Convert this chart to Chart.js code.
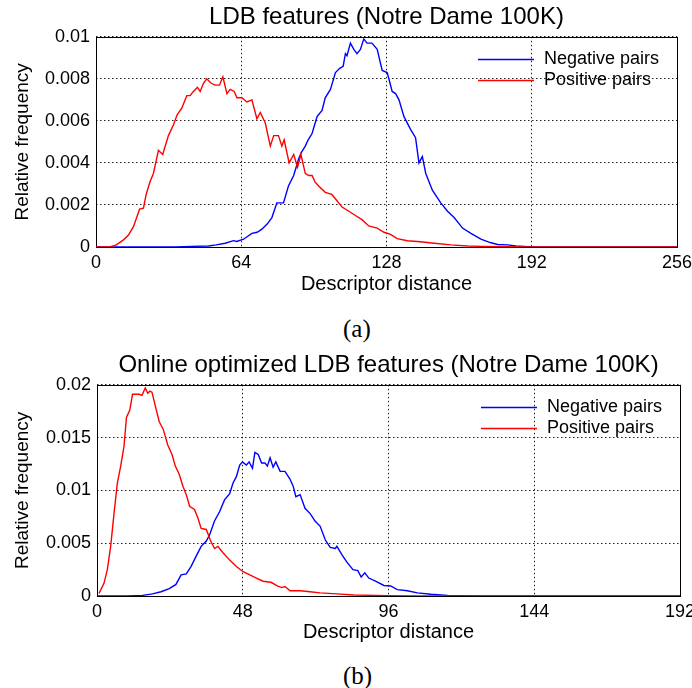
<!DOCTYPE html>
<html>
<head>
<meta charset="utf-8">
<script src="https://cdn.jsdelivr.net/npm/chart.js@4"></script>
<style>
  body { margin: 0; background: #fff; width: 692px; height: 688px; position: relative; overflow: hidden; }
  .panel { position: absolute; left: 0; }
  .caption { position: absolute; left: 343px; font: 25px/30px "Liberation Serif", "Times New Roman", serif; color: #000; }
</style>
</head>
<body>
<canvas id="chartA" class="panel" width="692" height="300" style="top:0px"></canvas>
<div class="caption" style="top:314px">(a)</div>
<canvas id="chartB" class="panel" width="692" height="300" style="top:348px"></canvas>
<div class="caption" style="top:661px">(b)</div>
<script>
Chart.defaults.font.family = '"Liberation Sans", Arial, sans-serif';
Chart.defaults.color = '#000';

const seriesLabels = ['Negative pairs', 'Positive pairs'];
const xTitle = 'Descriptor distance';
const yTitle = 'Relative frequency';

// (a) LDB features, distances 0..256
const titleA = 'LDB features (Notre Dame 100K)';
const negA_x = [0, 35, 42, 49.6, 53, 56.9, 60.6, 62, 65, 68.7, 71, 73.1, 75.5, 77.5, 79.7, 82.6, 84.8, 87.1, 89.3, 90.5,
    92.2, 93.5, 95.2, 97.4, 99.6, 101, 103.3, 105.5, 107.4, 108.9, 109.9, 110.6, 112.1, 113.6, 115, 116.5, 118, 119.4,
    121.6, 123.9, 126.1, 128.3, 130.5, 132, 133.5, 135.7, 138.6, 140.8, 142.3, 143.8, 145.3, 148.2, 151.9, 154.9, 157.8,
    161.5, 165.2, 169.6, 174, 177, 181.4, 185, 190.2, 196, 256];
const negA_y = [0, 0, 0.00003, 0.00005, 0.0001, 0.00018, 0.0003, 0.00026, 0.00037, 0.00065, 0.0007, 0.00085, 0.0011,
    0.0014, 0.0021, 0.0021, 0.0029, 0.0034, 0.0042, 0.0045, 0.0048, 0.0051, 0.0054, 0.0062, 0.0065, 0.0071, 0.0075,
    0.0083, 0.0085, 0.0086, 0.0092, 0.0091, 0.0097, 0.0094, 0.0092, 0.0094, 0.0099, 0.0097, 0.0097, 0.0094, 0.0084,
    0.0083, 0.0074, 0.0073, 0.0070, 0.0062, 0.0056, 0.0052, 0.0040, 0.0043, 0.0035, 0.0027, 0.0021, 0.0017, 0.0014,
    0.0009, 0.00065, 0.00037, 0.0002, 0.00012, 0.0001, 0.00005, 0.00002, 0, 0];
const posA_x = [0, 6, 9, 12.1, 14.3, 16.5, 19.2, 20.9, 22.1, 23.8, 25.3, 27.5, 29.4, 31.9, 34.1, 35.8, 37.8, 40, 41.5,
    42.9, 44.7, 45.9, 47.4, 48.8, 50.6, 52.5, 54.4, 55.9, 57.7, 59.1, 60.9, 62.1, 64.3, 66.5, 68.7, 70.9, 72.4, 74.6,
    76.8, 78.3, 80.4, 81.9, 82.9, 85.1, 87.1, 88.8, 90.3, 92.2, 93.7, 95.2, 96.5, 98.1, 101, 103.9, 106.2, 108.4, 111.4,
    114.3, 117.2, 120.2, 123.9, 126.9, 129.8, 132.7, 137.2, 143, 149, 156.4, 163.7, 170, 180, 190, 256];
const posA_y = [0, 0, 0.0001, 0.00034, 0.00057, 0.00097, 0.0018, 0.00185, 0.0025, 0.0031, 0.0035, 0.0046, 0.0044,
    0.0053, 0.0058, 0.0063, 0.0066, 0.0072, 0.0072, 0.0074, 0.0076, 0.0074, 0.0078, 0.0080, 0.0078, 0.0077, 0.0077,
    0.0081, 0.0073, 0.0075, 0.0074, 0.0071, 0.0071, 0.0069, 0.0070, 0.0061, 0.0064, 0.0059, 0.0048, 0.0053, 0.0053,
    0.0048, 0.0051, 0.0040, 0.0044, 0.0038, 0.0044, 0.0035, 0.0034, 0.0034, 0.0031, 0.0029, 0.0026, 0.0025, 0.0022,
    0.0019, 0.0017, 0.0015, 0.0013, 0.0010, 0.0009, 0.0007, 0.0006, 0.0004, 0.0003, 0.00025, 0.00018, 0.0001,
    0.00005, 0.00003, 0.00001, 0, 0];
const xTicksA = [0, 64, 128, 192, 256];
const yTicksA = [0, 0.002, 0.004, 0.006, 0.008, 0.01];

// (b) online optimized, distances 0..192
const titleB = 'Online optimized LDB features (Notre Dame 100K)';
const negB_x = [0, 10, 15, 18.3, 21.1, 23.8, 26, 27.7, 29.4, 31, 32.7, 34.3, 36, 37.1, 38.7, 40.4, 42, 43.7, 44.8, 45.9,
    47, 47.9, 49.2, 50.1, 51.2, 52, 53.1, 54.2, 55.3, 56.1, 57, 58, 58.9, 60.3, 61.9, 63.5, 64.6, 65.5, 66.9, 68.5, 70.2,
    71.8, 73.5, 75.2, 76.8, 78.5, 79, 80.7, 82.3, 84.3, 85.9, 87, 88.2, 89.5, 91.7, 94.5, 96.7, 98.9, 102.2, 105.5, 110,
    115.5, 120, 126, 192];
const negB_y = [0, 0, 0.00006, 0.0002, 0.0004, 0.0007, 0.0011, 0.002, 0.0021, 0.0028, 0.0038, 0.0047, 0.0052, 0.0058,
    0.0071, 0.008, 0.0091, 0.0097, 0.0107, 0.0113, 0.0124, 0.0127, 0.0124, 0.0127, 0.0121, 0.0136, 0.0134, 0.0126,
    0.0126, 0.0123, 0.0131, 0.0122, 0.0127, 0.0118, 0.0118, 0.0111, 0.0104, 0.0094, 0.0096, 0.0083, 0.0078, 0.0071,
    0.0066, 0.0053, 0.0046, 0.0045, 0.0047, 0.0039, 0.0032, 0.0025, 0.0024, 0.0018, 0.0022, 0.0017, 0.0014, 0.001,
    0.00095, 0.0006, 0.0005, 0.0003, 0.00016, 0.00006, 0.00002, 0, 0];
const posB_x = [0.66, 2.3, 3.4, 4.5, 5.6, 6.7, 7.8, 8.9, 9.7, 10.8, 11.7, 12.8, 13.9, 14.8, 15.9, 16.7, 17.4, 18.1, 19.2,
    20.5, 21.8, 23.3, 24.7, 25.8, 27.1, 28.3, 29.4, 30.5, 32.1, 33.2, 34.3, 36, 37.3, 38.7, 39.8, 41.5, 43.7, 45.9, 48.1,
    50.3, 52.5, 54.7, 57.3, 59.4, 60.8, 61.9, 63.6, 66.9, 70.2, 73.5, 79, 84.5, 95.6, 105, 192];
const posB_y = [0.00025, 0.0012, 0.0025, 0.0047, 0.0078, 0.0107, 0.0123, 0.0142, 0.0169, 0.0176, 0.0191, 0.0191,
    0.0191, 0.019, 0.0197, 0.0192, 0.0194, 0.0193, 0.018, 0.0165, 0.0158, 0.0143, 0.0134, 0.0123, 0.0115, 0.0104,
    0.0096, 0.0085, 0.0082, 0.0074, 0.0064, 0.0063, 0.0053, 0.0045, 0.0047, 0.0041, 0.0034, 0.0028, 0.0023, 0.002,
    0.0017, 0.0014, 0.0013, 0.00095, 0.0008, 0.0009, 0.0005, 0.0005, 0.0004, 0.0003, 0.0002, 0.0001, 0.00003, 0, 0];
const xTicksB = [0, 48, 96, 144, 192];
const yTicksB = [0, 0.005, 0.01, 0.015, 0.02];

function points(xs, ys) {
    return xs.map((x, i) => ({ x: x, y: ys[i] }));
}

// solid box round the plot area
const frame = {
    id: 'frame',
    beforeDatasetsDraw(chart) {
        const a = chart.chartArea;
        const c = chart.ctx;
        c.save();
        c.strokeStyle = '#000';
        c.lineWidth = 1;
        c.strokeRect(Math.round(a.left) + 0.5, Math.round(a.top) + 0.5,
            Math.round(a.right - a.left), Math.round(a.bottom - a.top));
        c.restore();
    }
};

// legend inside the plot, top right, no box
const innerLegend = {
    id: 'innerLegend',
    afterDatasetsDraw(chart, args, opts) {
        const a = chart.chartArea;
        const c = chart.ctx;
        c.save();
        c.font = '18px "Liberation Sans", Arial, sans-serif';
        c.textBaseline = 'middle';
        opts.order.forEach((idx, row) => {
            const ds = chart.data.datasets[idx];
            const y = Math.round(a.top + 22 + row * 21) + 0.5;
            c.strokeStyle = ds.borderColor;
            c.lineWidth = 1.5;
            c.beginPath();
            c.moveTo(a.right - 199, y);
            c.lineTo(a.right - 143, y);
            c.stroke();
            c.fillStyle = '#000';
            c.fillText(ds.label, a.right - 133, y);
        });
        c.restore();
    }
};

function makeChart(id, title, neg, pos, xTicks, yTicks, yWidth, xHeight, padRight) {
    const ctx = document.getElementById(id).getContext('2d');
    return new Chart(ctx, {
        type: 'line',
        data: {
            datasets: [{
                label: seriesLabels[1],
                data: pos,
                borderColor: '#ff0000',
                backgroundColor: '#ff0000'
            }, {
                label: seriesLabels[0],
                data: neg,
                borderColor: '#0000ff',
                backgroundColor: '#0000ff'
            }]
        },
        options: {
            responsive: false,
            animation: false,
            devicePixelRatio: 1,
            layout: { padding: { left: 9, right: padRight, top: 0, bottom: 0 } },
            elements: {
                point: { radius: 0 },
                line: { borderWidth: 1.4, tension: 0 }
            },
            plugins: {
                legend: { display: false },
                tooltip: { enabled: false },
                title: {
                    display: true,
                    text: title,
                    fullSize: false,
                    color: '#000',
                    font: { size: 24, weight: 'normal' },
                    padding: { top: 3, bottom: 5 }
                },
                innerLegend: { order: [1, 0] }
            },
            scales: {
                x: {
                    type: 'linear',
                    min: xTicks[0],
                    max: xTicks[xTicks.length - 1],
                    afterBuildTicks: s => { s.ticks = xTicks.map(v => ({ value: v })); },
                    afterFit: s => { s.height = xHeight; s.paddingLeft = 0; s.paddingRight = 0; },
                    ticks: { font: { size: 18 }, padding: 5, maxRotation: 0, autoSkip: false },
                    grid: { color: '#222', lineWidth: 1, drawTicks: false },
                    border: { display: false, dash: [1.5, 2.5] },
                    title: { display: true, text: xTitle, font: { size: 20 }, padding: { top: 0, bottom: 4 } }
                },
                y: {
                    min: yTicks[0],
                    max: yTicks[yTicks.length - 1],
                    afterBuildTicks: s => { s.ticks = yTicks.map(v => ({ value: v })); },
                    afterFit: s => { s.width = yWidth; s.paddingTop = 0; s.paddingBottom = 0; },
                    ticks: {
                        font: { size: 18 },
                        padding: 6,
                        autoSkip: false,
                        callback: v => String(+v.toFixed(4))
                    },
                    grid: { color: '#222', lineWidth: 1, drawTicks: false },
                    border: { display: false, dash: [1.5, 2.5] },
                    title: { display: true, text: yTitle, font: { size: 19 }, padding: { top: 2, bottom: 0 } }
                }
            }
        },
        plugins: [frame, innerLegend]
    });
}

const chartA = makeChart('chartA', titleA, points(negA_x, negA_y), points(posA_x, posA_y),
    xTicksA, yTicksA, 87, 53, 15);
const chartB = makeChart('chartB', titleB, points(negB_x, negB_y), points(posB_x, posB_y),
    xTicksB, yTicksB, 88, 52, 12);
</script>
</body>
</html>
